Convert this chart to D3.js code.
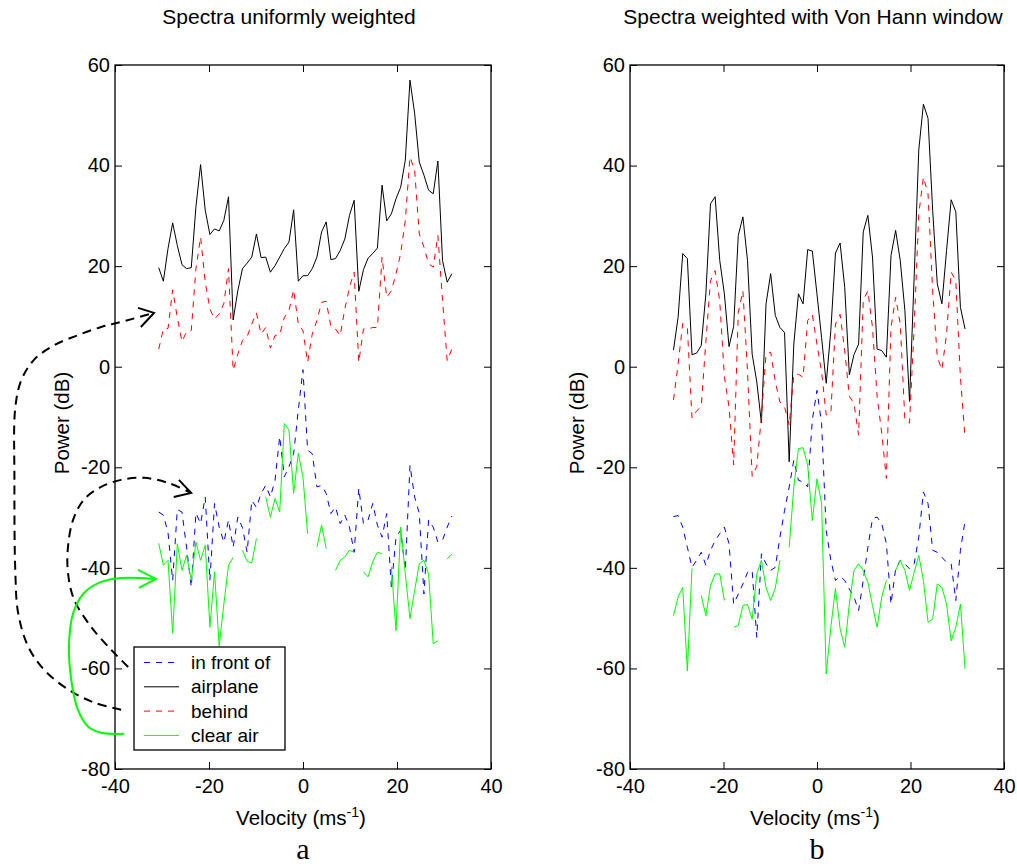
<!DOCTYPE html>
<html lang="en">
<head>
<meta charset="UTF-8">
<title>Spectra</title>
<script src="https://d3js.org/d3.v7.min.js"></script>
<style>
    body { margin: 0; background: #fff; }
    text { font-family: "Liberation Sans", Arial, sans-serif; fill: #000; }
    .tick line { stroke: #000; }
    .tick text { font-size: 20px; }
</style>
</head>
<body>
<div id="chart"></div>
<script>
// velocity bins (m/s)
const velocity = [-30.70, -29.71, -28.72, -27.73, -26.74, -25.75, -24.76, -23.77, -22.78, -21.79,
    -20.80, -19.81, -18.82, -17.83, -16.84, -15.85, -14.86, -13.87, -12.88, -11.89,
    -10.90, -9.91, -8.92, -7.93, -6.94, -5.95, -4.96, -3.97, -2.98, -1.99,
    -1.00, -0.01, 0.98, 1.97, 2.96, 3.95, 4.94, 5.93, 6.92, 7.91,
    8.90, 9.89, 10.88, 11.87, 12.86, 13.85, 14.84, 15.83, 16.82, 17.81,
    18.80, 19.79, 20.78, 21.77, 22.76, 23.75, 24.74, 25.73, 26.72, 27.71,
    28.70, 29.69, 30.68, 31.67];

// (a) uniformly weighted, dB
const frontU = [-28.9, -29.5, -33.0, -42.5, -28.4, -28.9, -36.0, -43.8, -29.1, -31.2, -25.9, -42.5, -27.2, -31.9, -34.9, -30.5,
    -35.9, -29.9, -32.0, -36.9, -26.6, -28.0, -25.2, -23.6, -25.9, -22.6, -13.9, -21.9, -19.9, -17.3, -8.6, -0.6,
    -16.6, -17.3, -23.9, -23.6, -25.2, -29.2, -27.9, -31.2, -29.5, -31.9, -36.9, -24.2, -31.2, -30.5, -27.2, -31.5,
    -33.9, -29.2, -43.8, -33.9, -32.5, -40.5, -19.6, -25.9, -29.2, -45.2, -30.5, -31.9, -34.9, -34.5, -31.9, -29.7];
const planeU = [19.7, 17.0, 23.5, 28.6, 24.1, 20.3, 19.5, 19.7, 31.8, 40.2, 31.1, 26.3, 27.4, 27.0, 29.1, 33.8,
    9.3, 15.1, 19.5, 20.6, 21.8, 26.4, 21.7, 21.8, 18.8, 20.1, 21.8, 23.5, 24.8, 31.2, 17.0, 18.1,
    18.1, 19.5, 21.8, 26.8, 28.8, 21.3, 21.5, 23.1, 25.4, 30.1, 33.1, 15.0, 19.3, 21.6, 22.5, 23.6,
    36.1, 29.0, 30.4, 33.4, 35.7, 41.1, 57.0, 50.4, 40.7, 38.1, 35.1, 34.4, 40.9, 21.1, 16.8, 18.5];
const behindU = [3.5, 7.5, 7.6, 15.3, 9.8, 5.0, 7.0, 7.2, 19.5, 25.8, 16.8, 11.5, 9.5, 10.5, 12.6, 19.5,
    -0.7, 2.5, 5.2, 6.0, 8.5, 10.7, 6.5, 7.8, 3.7, 6.2, 6.4, 9.8, 11.2, 15.3, 8.5, 7.2,
    0.9, 6.5, 9.2, 12.8, 13.0, 8.0, 7.5, 6.2, 11.5, 15.8, 18.8, 0.9, 7.5, 7.5, 7.8, 7.8,
    21.8, 13.8, 15.1, 18.5, 22.5, 29.1, 41.7, 39.1, 26.4, 23.8, 20.5, 19.8, 26.1, 13.2, 1.2, 3.5];
const clearU = [-35.1, -39.5, -38.5, -53.0, -35.2, -40.5, -37.5, -42.5, -34.9, -38.5, -35.5, -51.8, -40.8, -55.6, -47.2, -39.5,
    -37.9, null, -36.5, -38.7, -39.0, -34.2, null, -25.9, -29.9, -26.2, -28.9, -11.3, -12.6, -25.2, -17.2, -21.9,
    -33.2, null, -35.9, -31.5, -36.2, null, -40.5, -38.5, -37.8, -36.5, -36.9, null, -40.8, -41.8, -38.8, -36.9,
    -37.2, null, -39.8, -52.5, -31.9, -41.2, -50.1, -44.5, -39.2, -38.5, -41.2, -55.1, -54.5, null, -38.2, -37.2];

// (b) Von Hann window, dB
const frontH = [-29.8, -29.6, -31.9, -35.9, -39.9, -38.5, -36.9, -39.5, -36.5, -34.6, -33.2, -31.9, -35.2, -47.2, -45.2, -43.2,
    -40.9, -40.5, -53.8, -37.2, -39.2, -40.5, -39.9, -33.9, -28.6, -23.9, -18.6, -22.6, -22.9, -23.9, -10.6, -4.7,
    -11.3, -32.6, -38.5, -42.5, -41.7, -42.5, -44.2, -45.8, -48.5, -42.5, -35.9, -30.2, -29.9, -31.2, -35.2, -47.2,
    -40.2, -38.5, -39.2, -40.2, -39.2, -33.9, -24.9, -27.2, -36.5, -36.9, -37.9, -38.9, -39.2, -46.5, -36.5, -30.6];
const planeH = [3.3, 9.8, 22.5, 21.5, 2.4, 2.7, 4.2, 14.5, 32.4, 33.8, 21.1, 14.5, 4.0, 8.0, 26.1, 29.8,
    21.1, 2.5, -3.0, -11.2, 12.5, 18.5, 10.2, 7.8, 6.8, -18.9, 4.5, 14.5, 12.5, 23.3, 23.0, 14.5,
    5.8, -3.3, 7.2, 22.6, 24.6, 15.8, -1.6, 2.4, 4.5, 26.8, 30.1, 21.8, 3.5, 3.2, 1.9, 22.1,
    27.1, 21.1, 11.2, -6.9, 17.8, 43.1, 52.2, 49.4, 31.1, 16.5, 12.5, 23.1, 33.2, 30.8, 11.8, 7.5];
const behindH = [-6.6, 0.5, 8.6, 7.8, -10.2, -8.8, -7.9, 5.0, 17.1, 19.1, 13.0, -2.0, -8.0, -19.5, 10.8, 15.1,
    -1.0, -21.8, -19.8, -10.0, 2.5, 2.9, -3.0, -7.0, -8.0, -11.6, -1.6, -1.5, -2.1, 9.2, 10.4, 4.5,
    -1.0, -9.6, -9.3, 8.5, 10.4, 3.2, -5.9, -7.3, -13.6, 13.2, 15.1, 7.8, -5.9, -13.2, -22.2, 7.8,
    13.8, 8.5, -10.6, -11.2, 7.8, 30.4, 37.7, 34.4, 15.1, 1.9, -0.6, 6.5, 18.8, 17.1, -2.1, -14.2];
const clearH = [-49.5, -45.8, -43.9, -60.5, -40.1, null, -45.5, -49.5, -43.5, -41.2, -41.2, -46.5, null, -51.8, -51.5, -47.5,
    -47.3, -50.2, -41.2, -38.5, -43.9, -46.5, -44.0, -38.5, null, -35.9, -23.9, -16.3, -16.1, -19.6, -30.6, -22.3,
    -27.2, -61.1, -51.8, -44.1, -52.1, -55.8, -47.2, -40.5, -39.2, -40.5, -42.9, -47.5, -51.8, -45.8, -42.5, null,
    -40.5, -38.5, -40.5, -44.5, -40.9, -37.5, -42.5, -50.8, -50.2, -43.2, -43.9, -47.2, -54.5, -51.8, -47.2, -60.1];

const xTicks = [-40, -20, 0, 20, 40];
const yTicks = [-80, -60, -40, -20, 0, 20, 40, 60];
const legendNames = ["in front of", "airplane", "behind", "clear air"];
const panelTitles = ["Spectra uniformly weighted", "Spectra weighted with Von Hann window"];
const panelLetters = ["a", "b"];

// hand drawn annotation arrows on panel a, in [velocity, dB]
const arcAirplane = [[-38.7, -68.2], [-44.4, -66.8], [-49.95, -64.2], [-55.05, -60.3], [-58.45, -55.7], [-60.6, -49.0],
    [-61.2, -41.0], [-61.4, -22.5], [-61.2, -8.0], [-59.9, -2.6], [-57.2, 1.4], [-52.9, 4.3], [-47.8, 6.3],
    [-42.95, 7.9], [-38.7, 8.9], [-31.7, 10.7]];
const headAirplane = [[-35.1, 11.7], [-31.7, 10.7], [-34.5, 7.9]];
const arcFront = [[-37.2, -59.7], [-40.8, -56.3], [-45.1, -51.7], [-48.7, -46.3], [-50.0, -41.0], [-50.0, -35.8],
    [-48.9, -30.4], [-46.6, -26.4], [-42.95, -23.9], [-38.7, -22.5], [-33.8, -22.1], [-28.7, -23.1], [-23.8, -25.1]];
const headFront = [[-26.4, -22.5], [-23.8, -25.1], [-27.5, -25.9]];
const arcClear = [[-38.05, -73.0], [-42.95, -72.8], [-45.7, -71.6], [-47.9, -68.2], [-49.3, -62.3], [-49.8, -55.7],
    [-48.9, -49.0], [-46.6, -45.0], [-42.95, -42.8], [-38.7, -42.0], [-31.3, -42.2]];
const headClear = [[-35.1, -40.4], [-31.3, -42.2], [-34.9, -44.0]];

const seriesStyle = [
    {color: "#0000ff", dash: "6,6"},
    {color: "#000000", dash: null},
    {color: "#ff0000", dash: "6,6"},
    {color: "#00ff00", dash: null}
];

const W = 1017, H = 867;
const plotTop = 65, plotBottom = 769;

const svg = d3.select("#chart").append("svg")
    .attr("width", W)
    .attr("height", H);

function drawPanel(left, right, idx, series, withLegend) {
    const x = d3.scaleLinear().domain([-40, 40]).range([left, right]);
    const y = d3.scaleLinear().domain([-80, 60]).range([plotBottom, plotTop]);
    const g = svg.append("g");
    const fmt = d => String(d);

    g.append("g").attr("transform", `translate(0,${plotBottom})`)
        .call(d3.axisBottom(x).tickValues(xTicks).tickSize(-7).tickSizeOuter(0).tickPadding(10).tickFormat(fmt))
        .call(a => a.select(".domain").remove());
    g.append("g").attr("transform", `translate(0,${plotTop})`)
        .call(d3.axisTop(x).tickValues(xTicks).tickSize(-7).tickSizeOuter(0).tickFormat(""))
        .call(a => a.select(".domain").remove());
    g.append("g").attr("transform", `translate(${left},0)`)
        .call(d3.axisLeft(y).tickValues(yTicks).tickSize(-7).tickSizeOuter(0).tickPadding(5).tickFormat(fmt))
        .call(a => a.select(".domain").remove());
    g.append("g").attr("transform", `translate(${right},0)`)
        .call(d3.axisRight(y).tickValues(yTicks).tickSize(-7).tickSizeOuter(0).tickFormat(""))
        .call(a => a.select(".domain").remove());

    g.selectAll(".tick text").attr("fill", "#000");

    g.append("rect")
        .attr("x", left).attr("y", plotTop)
        .attr("width", right - left).attr("height", plotBottom - plotTop)
        .attr("fill", "none").attr("stroke", "#000").attr("stroke-width", 1.3);

    const line = d3.line()
        .defined(d => d[1] !== null)
        .x(d => x(d[0]))
        .y(d => y(d[1]));

    series.forEach((vals, i) => {
        g.append("path")
            .datum(velocity.map((v, j) => [v, vals[j]]))
            .attr("d", line)
            .attr("fill", "none")
            .attr("stroke", seriesStyle[i].color)
            .attr("stroke-width", 1)
            .attr("stroke-dasharray", seriesStyle[i].dash);
    });

    const cx = (left + right) / 2;
    // titles sit a little left of the axes centre in the original
    g.append("text").attr("x", idx === 0 ? cx - 14 : cx - 4).attr("y", 24)
        .attr("text-anchor", "middle").attr("font-size", 21)
        .text(panelTitles[idx]);

    const xl = g.append("text").attr("x", cx - 2).attr("y", 825)
        .attr("text-anchor", "middle").attr("font-size", 20.5);
    xl.append("tspan").text("Velocity (ms");
    xl.append("tspan").attr("font-size", 14).attr("dy", -8).text("-1");
    xl.append("tspan").attr("dy", 8).text(")");

    g.append("text")
        .attr("transform", `translate(${left - 53},${(plotTop + plotBottom) / 2 + 6}) rotate(-90)`)
        .attr("text-anchor", "middle").attr("dy", "0.35em").attr("font-size", 20.5)
        .text("Power (dB)");

    g.append("text").attr("x", cx).attr("y", 859)
        .attr("text-anchor", "middle")
        .style("font-family", "'Liberation Serif', 'Times New Roman', serif")
        .attr("font-size", 30)
        .text(panelLetters[idx]);

    if (withLegend) {
        const lg = g.append("g");
        lg.append("rect")
            .attr("x", 134).attr("y", 647).attr("width", 151).attr("height", 103)
            .attr("fill", "#fff").attr("stroke", "#000").attr("stroke-width", 1.3);
        legendNames.forEach((name, i) => {
            const yy = 662.5 + i * 24.3;
            lg.append("line")
                .attr("x1", 144).attr("x2", 179).attr("y1", yy).attr("y2", yy)
                .attr("stroke", seriesStyle[i].color).attr("stroke-width", 1)
                .attr("stroke-dasharray", seriesStyle[i].dash);
            lg.append("text").attr("x", 191).attr("y", yy)
                .attr("dy", "0.35em").attr("font-size", 19)
                .text(name);
        });

        const curve = d3.line().x(d => x(d[0])).y(d => y(d[1])).curve(d3.curveCatmullRom.alpha(0.5));
        const straight = d3.line().x(d => x(d[0])).y(d => y(d[1]));
        const notes = [
            [arcAirplane, headAirplane, "#000", "9,6"],
            [arcFront, headFront, "#000", "9,6"],
            [arcClear, headClear, "#00ff00", null]
        ];
        notes.forEach(([arc, head, col, dash]) => {
            g.append("path").attr("d", curve(arc))
                .attr("fill", "none").attr("stroke", col).attr("stroke-width", 2)
                .attr("stroke-dasharray", dash);
            g.append("path").attr("d", straight(head))
                .attr("fill", "none").attr("stroke", col).attr("stroke-width", 2);
        });
    }
}

drawPanel(115, 491, 0, [frontU, planeU, behindU, clearU], true);
drawPanel(630, 1004, 1, [frontH, planeH, behindH, clearH], false);
</script>
</body>
</html>
